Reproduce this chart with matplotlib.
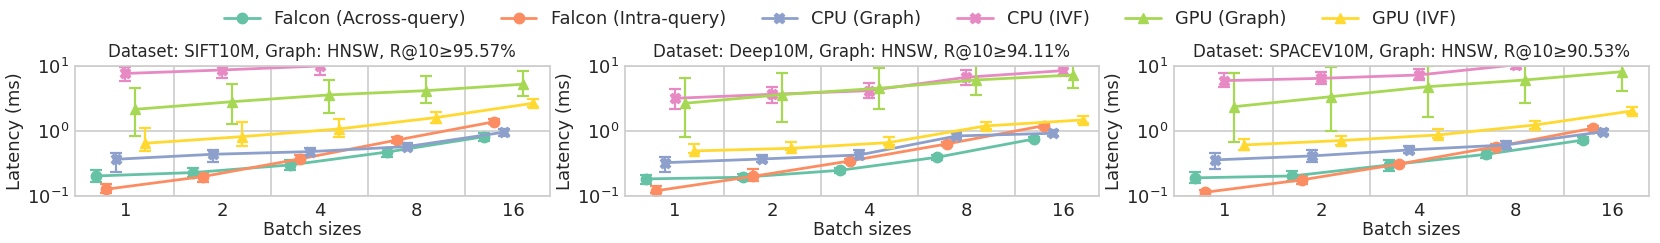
import numpy as np
import matplotlib
matplotlib.use("Agg")
import matplotlib.pyplot as plt
import seaborn as sns
from matplotlib.ticker import NullLocator, FixedLocator

nan = np.nan

series_names = ["Falcon (Across-query)", "Falcon (Intra-query)", "CPU (Graph)",
                "CPU (IVF)", "GPU (Graph)", "GPU (IVF)"]
batch_sizes = ["1", "2", "4", "8", "16"]
titles = ["Dataset: SIFT10M, Graph: HNSW, R@10≥95.57%",
          "Dataset: Deep10M, Graph: HNSW, R@10≥94.11%",
          "Dataset: SPACEV10M, Graph: HNSW, R@10≥90.53%"]

# rows follow series_names, columns follow batch_sizes (latency in ms)
sift_mean = [[0.203, 0.229, 0.30, 0.474, 0.815],
             [0.127, 0.199, 0.371, 0.724, 1.38],
             [0.366, 0.437, 0.48, 0.573, 0.953],
             [7.6, 8.6, 9.9, nan, nan],
             [2.14, 2.8, 3.56, 4.14, 5.2],
             [0.645, 0.815, 1.07, 1.6, 2.65]]
sift_lo = [[0.166, 0.194, 0.25, 0.40, 0.71],
           [0.110, 0.166, 0.33, 0.65, 1.26],
           [0.232, 0.337, 0.41, 0.51, 0.83],
           [5.9, 6.4, 7.2, nan, nan],
           [0.835, 1.28, 1.9, 2.65, 3.39],
           [0.497, 0.586, 0.815, 1.34, 2.3]]
sift_hi = [[0.251, 0.273, 0.36, 0.54, 0.92],
           [0.152, 0.229, 0.42, 0.815, 1.5],
           [0.453, 0.509, 0.54, 0.65, 1.07],
           [9.7, 10.2, 13.0, nan, nan],
           [4.5, 5.24, 6.0, 7.0, 8.3],
           [1.1, 1.36, 1.51, 1.93, 3.05]]

deep_mean = [[0.183, 0.194, 0.248, 0.393, 0.751],
             [0.12, 0.2, 0.345, 0.63, 1.2],
             [0.325, 0.37, 0.427, 0.835, 0.918],
             [3.16, 3.64, 4.14, 6.64, 8.4],
             [2.65, 3.6, 4.5, 6.04, 7.2],
             [0.492, 0.54, 0.66, 1.19, 1.47]]
deep_lo = [[0.153, 0.176, 0.225, 0.36, 0.69],
           [0.11, 0.17, 0.32, 0.58, 1.1],
           [0.23, 0.33, 0.37, 0.77, 0.82],
           [2.17, 2.65, 3.24, 5.05, 7.0],
           [0.815, 1.38, 2.17, 3.6, 4.55],
           [0.45, 0.5, 0.6, 1.06, 1.3]]
deep_hi = [[0.21, 0.214, 0.27, 0.43, 0.81],
           [0.14, 0.259, 0.37, 0.68, 1.3],
           [0.4, 0.43, 0.5, 0.96, 1.02],
           [4.4, 4.77, 5.37, 8.6, 9.8],
           [6.4, 7.8, 9.1, 12.0, 12.0],
           [0.622, 0.68, 0.8, 1.38, 1.7]]

spacev_mean = [[0.19, 0.203, 0.3, 0.437, 0.724],
               [0.114, 0.177, 0.31, 0.573, 1.1],
               [0.358, 0.412, 0.509, 0.608, 0.97],
               [5.9, 6.4, 7.2, 10.3, nan],
               [2.35, 3.35, 4.77, 6.04, 8.1],
               [0.608, 0.71, 0.865, 1.23, 2.02]]
spacev_lo = [[0.16, 0.17, 0.24, 0.38, 0.66],
             [0.10, 0.155, 0.29, 0.53, 1.02],
             [0.26, 0.337, 0.45, 0.53, 0.88],
             [4.77, 5.2, 6.0, 8.8, nan],
             [0.68, 1.0, 1.62, 2.65, 4.14],
             [0.5, 0.6, 0.77, 1.07, 1.8]]
spacev_hi = [[0.23, 0.245, 0.36, 0.5, 0.8],
             [0.125, 0.2, 0.33, 0.62, 1.18],
             [0.45, 0.51, 0.58, 0.7, 1.06],
             [7.6, 8.1, 9.0, 12.0, nan],
             [7.8, 9.4, 9.9, 13.0, 13.0],
             [0.76, 0.84, 1.07, 1.43, 2.3]]

datasets = [(sift_mean, sift_lo, sift_hi),
            (deep_mean, deep_lo, deep_hi),
            (spacev_mean, spacev_lo, spacev_hi)]

sns.set_theme(style="whitegrid")
plt.rcParams['font.family'] = ['DejaVu Sans']

colors = sns.color_palette("Set2", 6)
markers = ["o", "o", "X", "X", "^", "^"]
offsets = [-0.3, -0.2, -0.1, 0.0, 0.1, 0.2]

W, H = 1660, 243
fig = plt.figure(figsize=(W / 100, H / 100), dpi=100)

lefts = [75, 624.6, 1174]
ax_w = 474.5
ax_top, ax_bot = 65.7, 196.0

handles = []
for k, (means, los, his) in enumerate(datasets):
    ax = fig.add_axes([lefts[k] / W, (H - ax_bot) / H, ax_w / W, (ax_bot - ax_top) / H])
    x = np.arange(len(batch_sizes))
    for i, name in enumerate(series_names):
        m = np.array(means[i], float)
        lo = np.array(los[i], float)
        hi = np.array(his[i], float)
        cont = ax.errorbar(x + offsets[i], m, yerr=[m - lo, hi - m], color=colors[i],
                           marker=markers[i], ms=7.5, lw=2.0, elinewidth=1.6,
                           capsize=4.5, capthick=1.6, label=name)
        if k == 0:
            handles.append(cont[0])
    ax.set_yscale("log")
    ax.set_ylim(0.1, 10)
    ax.set_xlim(-0.52, 4.37)
    ax.set_xticks(x)
    ax.set_xticklabels(batch_sizes)
    ax.xaxis.set_minor_locator(FixedLocator([0.5, 1.5, 2.5, 3.5]))
    ax.yaxis.set_minor_locator(NullLocator())
    ax.grid(False, axis="x", which="major")
    ax.grid(True, axis="x", which="minor", color=".8", lw=1.2)
    ax.grid(True, axis="y", which="major", color=".8", lw=1.2)
    ax.tick_params(which="both", length=0, labelsize=13, colors=".15", pad=4)
    for s in ax.spines.values():
        s.set_color(".8")
        s.set_linewidth(1.2)
    ax.set_xlabel("Batch sizes", fontsize=12.5, color=".15", labelpad=1)
    ax.set_ylabel("Latency (ms)", fontsize=13, color=".15", labelpad=2)
    ax.set_title(titles[k], fontsize=12, color=".15")

fig.legend(handles, series_names, loc="center", bbox_to_anchor=(840 / W, 1 - 19 / H),
           ncol=6, frameon=False, fontsize=12.8)

fig.savefig("out.png", dpi=100)
